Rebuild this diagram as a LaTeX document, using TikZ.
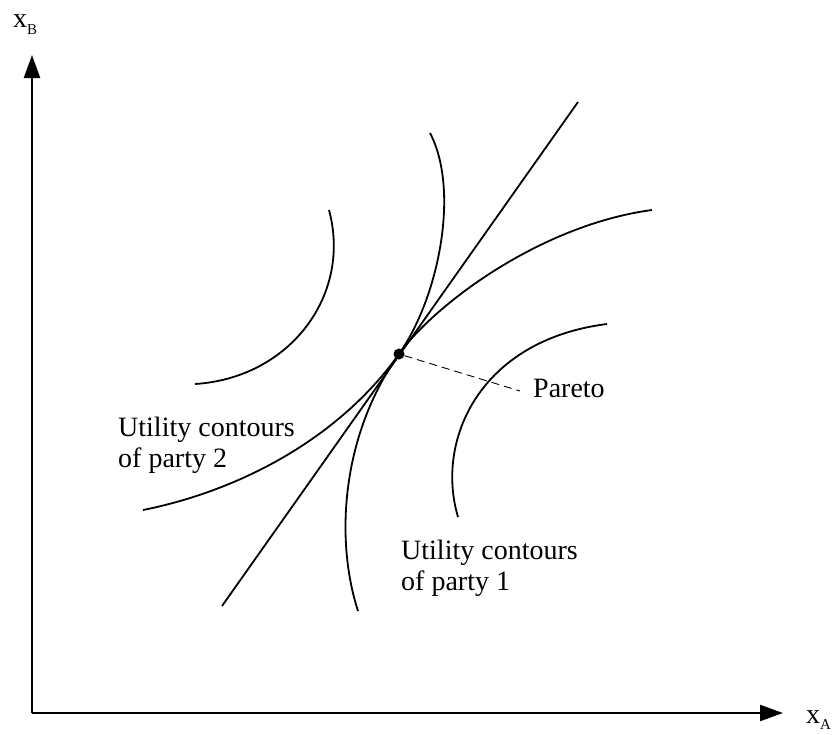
\documentclass[tikz,border=0pt]{standalone}
\usepackage{fontspec}
\setmainfont{Liberation Serif}
\usetikzlibrary{arrows.meta}
\begin{document}
\begin{tikzpicture}[x=1pt,y=-1pt,
  axis/.style={line width=2.2pt, -{Triangle[length=23pt,width=16pt]}},
  contour/.style={line width=1.8pt},
  tangent/.style={line width=1.8pt},
  guide/.style={line width=0.9pt, dash pattern=on 8pt off 5pt},
  lbl/.style={inner sep=0pt, anchor=base west, align=left,
    font=\fontsize{28}{31}\selectfont},
  axlbl/.style={inner sep=0pt, anchor=base west, font=\fontsize{28}{30}\selectfont}]
\useasboundingbox (0,0) rectangle (838,734);

% axes
\coordinate (origin) at (32,713);
\coordinate (ytip) at (32,55);
\coordinate (xtip) at (783,713);
\draw[axis] (origin) -- (ytip);
\draw[axis] (origin) -- (xtip);
\node[axlbl] (xb) at (13,27) {x\raisebox{-7pt}{\fontsize{15}{15}\selectfont B}};
\node[axlbl] (xa) at (806,723) {x\raisebox{-6pt}{\fontsize{15}{15}\selectfont A}};

% tangency point
\node[circle, fill=black, inner sep=0pt, minimum size=11pt] (p) at (399,354) {};

% common tangent line
\coordinate (tlo) at (222,606);
\coordinate (thi) at (578,102);
\draw[tangent] (tlo) -- (thi);

% utility contours of party 2
\draw[contour] (195,384) .. controls (290,378) and (352,295) .. (329,210);
\draw[contour] (143,510) .. controls (243,490) and (341,436) .. (p.center)
               .. controls (434,305) and (540,225) .. (652,210);

% utility contours of party 1
\draw[contour] (358,611) .. controls (335,540) and (341,436) .. (p.center)
               .. controls (439,297) and (460,190) .. (430,133);
\draw[contour] (458,517) .. controls (435,440) and (480,340) .. (607,324);

% Pareto pointer
\coordinate (pend) at (520,391);
\draw[guide] (p) -- (pend);
\node[lbl] (pareto) at (533,397) {Pareto};

% contour labels (anchored at the baseline of the last line)
\node[lbl] (lab2) at (118,467) {Utility contours\\of party 2};
\node[lbl] (lab1) at (401,590) {Utility contours\\of party 1};
\end{tikzpicture}
\end{document}
